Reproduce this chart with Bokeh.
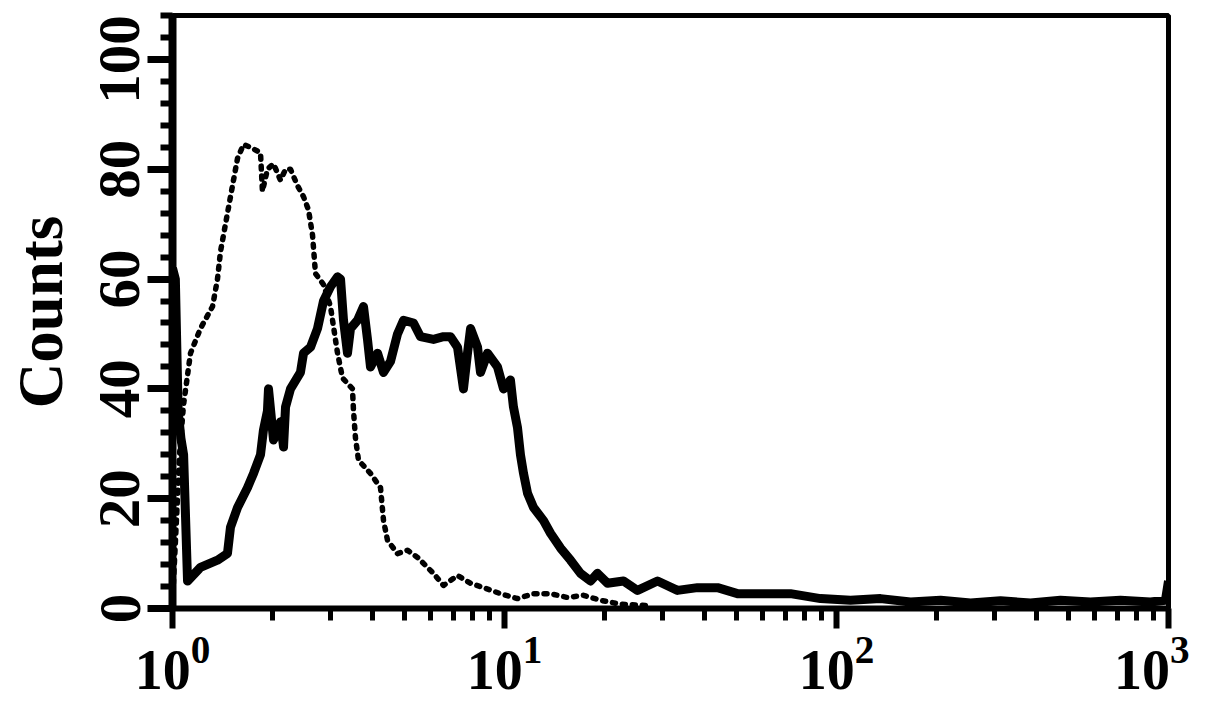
from bokeh.plotting import figure
from bokeh.models import FixedTicker, LogTickFormatter, Range1d
from bokeh.embed import file_html
from bokeh.resources import INLINE

# Control (dotted) histogram
ctrl_x = [1.00, 1.05, 1.079, 1.133, 1.214, 1.320, 1.366, 1.395, 1.444, 1.516, 1.570, 1.636,
          1.718, 1.841, 1.866, 1.932, 2.015, 2.115, 2.190, 2.267, 2.380, 2.481, 2.568, 2.641,
          2.696, 2.850, 2.991, 3.141, 3.251, 3.484, 3.509, 3.558, 3.633, 3.948, 4.232, 4.321,
          4.443, 4.762, 5.105, 5.470, 6.110, 6.551, 7.219, 7.903, 8.645, 9.727, 10.94, 12.23,
          13.76, 15.48, 17.30, 19.46, 22.3, 27.5]
ctrl_y = [1, 28, 37, 46.5, 51, 55, 60, 65, 70, 77, 82, 84.5,
          84, 83, 76, 80, 81, 78, 80, 80, 77, 75, 72.6, 68,
          61, 59, 55, 46.5, 42, 40, 36, 31, 27, 24.6, 22, 16,
          12.4, 10, 10.6, 9.3, 6.4, 4.2, 6, 4.6, 3.8, 2.7, 1.8, 2.7,
          2.7, 2.0, 2.4, 1.5, 0.8, 0.5]

# Sample (solid) histogram
samp_x = [1.00, 1.02, 1.04, 1.06, 1.08, 1.110, 1.214, 1.366, 1.464, 1.495, 1.570, 1.682,
          1.754, 1.841, 1.879, 1.932, 1.946, 2.015, 2.115, 2.160, 2.190, 2.267, 2.429, 2.481,
          2.605, 2.734, 2.850, 2.991, 3.141, 3.207, 3.274, 3.366, 3.437, 3.608, 3.761, 3.867,
          3.948, 4.145, 4.321, 4.536, 4.762, 4.964, 5.319, 5.585, 6.110, 6.551, 6.877, 7.219,
          7.524, 7.736, 7.903, 8.294, 8.468, 8.888, 9.526, 9.931, 10.42, 10.64, 10.94, 11.17,
          11.41, 11.73, 12.23, 13.11, 13.76, 14.75, 15.81, 16.94, 18.16, 19.06, 20.43, 22.83,
          25.16, 28.90, 33.19, 38.13, 43.82, 50.32, 59.03, 72.67, 89.5, 110.2, 135.7, 167.1,
          205.8, 253.3, 311.9, 384.0, 472.8, 582.1, 716.6, 882.4, 979.0, 1000.0]
samp_y = [62, 60, 36, 31, 28, 5, 7.5, 8.8, 10, 14.8, 18.4, 22,
          24.6, 28, 32.5, 36, 40, 30.7, 34, 29.4, 36.7, 40, 43, 46.5,
          47.6, 51, 56, 58.6, 60.4, 60, 52.5, 46.5, 51, 52.5, 55, 49,
          44, 46.5, 43, 45, 50, 52.5, 52, 49.5, 49, 49.5, 49.5, 47.6,
          40, 46.5, 51, 47.6, 43, 46.5, 44, 40, 41.6, 36.7, 33, 28,
          24.6, 21, 18.4, 16, 13.7, 11, 8.8, 6.4, 5, 6.4, 4.6, 5,
          3.3, 5, 3.3, 3.8, 3.8, 2.7, 2.7, 2.7, 1.8, 1.5, 1.8, 1.2,
          1.5, 1.0, 1.4, 1.0, 1.5, 1.2, 1.5, 1.2, 1.5, 5]

x_major = [1, 10, 100, 1000]
x_minor = [2, 3, 4, 5, 6, 7, 8, 9, 20, 30, 40, 50, 60, 70, 80, 90,
           200, 300, 400, 500, 600, 700, 800, 900]
y_major = [0, 20, 40, 60, 80, 100]
y_minor = [4, 8, 12, 16, 24, 28, 32, 36, 44, 48, 52, 56, 64, 68, 72, 76,
           84, 88, 92, 96, 104, 108]

FONT = "Liberation Serif"

p = figure(width=1189, height=700, x_axis_type="log",
           x_range=Range1d(1, 1000), y_range=Range1d(0, 108),
           output_backend="svg", toolbar_location=None,
           min_border_left=172, min_border_right=21,
           min_border_top=15, min_border_bottom=92)

p.line(ctrl_x, ctrl_y, line_color="black", line_width=5.5,
       line_dash="3 7", line_cap="round", line_join="round")
p.line(samp_x, samp_y, line_color="black", line_width=9, line_join="round")

p.grid.visible = False
p.outline_line_color = "black"
p.outline_line_width = 5
p.background_fill_color = "white"
p.border_fill_color = "white"

xa = p.xaxis[0]
xa.ticker = FixedTicker(ticks=x_major, minor_ticks=x_minor)
xa.formatter = LogTickFormatter(min_exponent=0)
xa.axis_line_width = 6
xa.major_tick_line_width = 6
xa.minor_tick_line_width = 5
xa.major_tick_out = 20
xa.minor_tick_out = 12
xa.major_tick_in = 0
xa.minor_tick_in = 0
xa.major_label_text_font = FONT
xa.major_label_text_font_style = "bold"
xa.major_label_text_font_size = "56px"
xa.major_label_text_color = "black"
xa.major_label_standoff = 8

ya = p.yaxis[0]
ya.ticker = FixedTicker(ticks=y_major, minor_ticks=y_minor)
ya.axis_line_width = 8
ya.major_tick_line_width = 7
ya.minor_tick_line_width = 6
ya.major_tick_out = 25
ya.minor_tick_out = 12
ya.major_tick_in = 0
ya.minor_tick_in = 0
ya.major_label_orientation = "vertical"
ya.major_label_text_font = FONT
ya.major_label_text_font_style = "bold"
ya.major_label_text_font_size = "59px"
ya.major_label_text_color = "black"
ya.major_label_standoff = 8
ya.axis_label = "Counts"
ya.axis_label_text_font = FONT
ya.axis_label_text_font_style = "bold"
ya.axis_label_text_font_size = "63px"
ya.axis_label_text_color = "black"
ya.axis_label_standoff = 22

open("out.html", "w").write(file_html(p, INLINE))
